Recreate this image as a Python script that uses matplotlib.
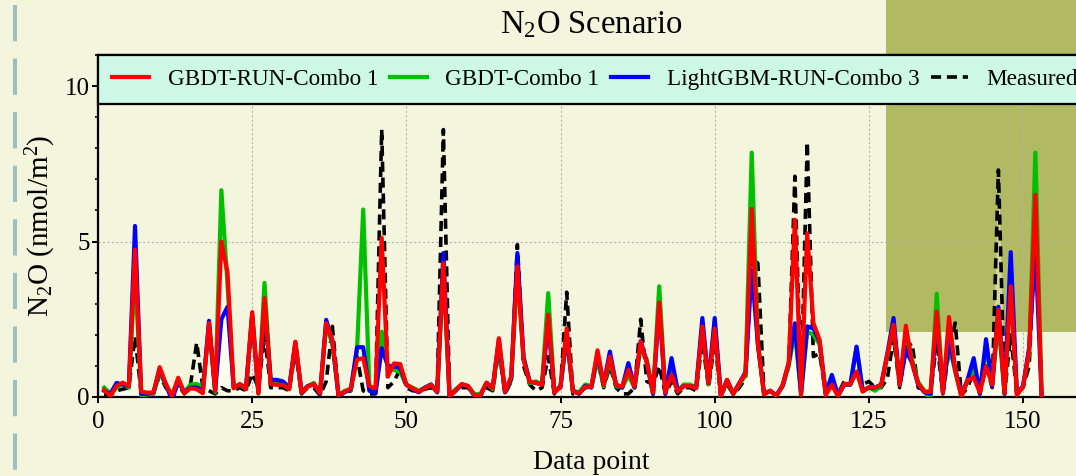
import numpy as np
import matplotlib
matplotlib.use("Agg")
import matplotlib.pyplot as plt
from matplotlib.patches import Rectangle
from matplotlib.lines import Line2D
from matplotlib.ticker import MultipleLocator

plt.rcParams["font.family"] = ["Liberation Serif", "DejaVu Serif"]
plt.rcParams["mathtext.fontset"] = "custom"
plt.rcParams["mathtext.rm"] = "Liberation Serif"
plt.rcParams["mathtext.it"] = "Liberation Serif:italic"

# ---- data -------------------------------------------------------------
data_point = np.arange(1, 154)

gbdt_run_combo1 = [
    0.22, 0.03, 0.35, 0.46, 0.35, 4.74, 0.17, 0.14, 0.14, 0.96,
    0.42, 0.03, 0.62, 0.12, 0.28, 0.25, 0.12, 2.38, 0.19, 5.00,
    4.00, 0.28, 0.42, 0.25, 2.73, 0.12, 3.18, 0.42, 0.39, 0.39,
    0.25, 1.78, 0.14, 0.33, 0.42, 0.12, 2.38, 1.84, 0.06, 0.17,
    0.28, 1.20, 1.25, 0.35, 0.28, 5.12, 0.66, 1.08, 1.06, 0.39,
    0.28, 0.17, 0.28, 0.39, 0.17, 4.31, 0.01, 0.22, 0.42, 0.35,
    0.06, 0.06, 0.46, 0.28, 1.89, 0.17, 0.66, 4.20, 1.19, 0.49,
    0.46, 0.39, 2.65, 0.14, 0.33, 2.20, 0.17, 0.12, 0.33, 0.33,
    1.50, 0.39, 1.30, 0.39, 0.33, 0.87, 0.33, 1.78, 1.09, 0.14,
    3.04, 0.14, 0.71, 0.17, 0.35, 0.35, 0.28, 2.27, 0.44, 2.20,
    0.03, 0.55, 0.10, 0.44, 0.76, 6.05, 1.73, 0.08, 0.20, 0.03,
    0.38, 1.09, 5.70, 0.06, 5.26, 2.38, 1.84, 0.06, 0.39, 0.02,
    0.42, 0.42, 0.82, 0.17, 0.32, 0.31, 0.39, 1.35, 2.32, 0.39,
    2.29, 1.09, 0.42, 0.17, 0.17, 2.75, 0.14, 2.57, 0.87, 0.00,
    0.55, 0.62, 0.14, 0.98, 0.40, 2.80, 0.12, 3.56, 0.06, 0.33,
    1.50, 6.50, 0.06,
]

gbdt_combo1 = [
    0.30, 0.10, 0.30, 0.42, 0.30, 4.00, 0.05, 0.08, 0.10, 0.80,
    0.38, 0.05, 0.55, 0.15, 0.40, 0.42, 0.30, 2.30, 0.15, 6.65,
    3.60, 0.30, 0.40, 0.25, 2.60, 0.10, 3.67, 0.45, 0.45, 0.42,
    0.25, 1.70, 0.15, 0.35, 0.45, 0.10, 2.30, 1.70, 0.05, 0.20,
    0.22, 1.50, 6.03, 0.30, 0.20, 2.10, 0.95, 0.87, 0.80, 0.40,
    0.30, 0.20, 0.30, 0.40, 0.15, 4.00, 0.05, 0.25, 0.40, 0.35,
    0.10, 0.08, 0.45, 0.25, 1.70, 0.15, 0.55, 4.00, 1.30, 0.45,
    0.50, 0.40, 3.34, 0.15, 0.35, 1.90, 0.20, 0.15, 0.40, 0.35,
    1.20, 0.35, 1.20, 0.35, 0.30, 0.70, 0.30, 1.60, 1.20, 0.10,
    3.56, 0.15, 0.95, 0.20, 0.40, 0.40, 0.30, 2.30, 0.40, 2.40,
    0.05, 0.50, 0.10, 0.40, 0.70, 7.86, 1.70, 0.10, 0.20, 0.05,
    0.35, 1.00, 2.10, 0.10, 2.10, 2.00, 1.70, 0.10, 0.55, 0.05,
    0.40, 0.40, 1.60, 0.20, 0.30, 0.20, 0.35, 1.30, 2.30, 0.40,
    2.10, 1.20, 0.48, 0.20, -0.10, 3.32, 0.15, 1.70, 0.80, 0.05,
    0.50, 0.90, 0.15, 1.60, 0.40, 2.40, 0.10, 3.60, 0.10, 0.35,
    1.40, 7.86, 0.10,
]

lightgbm_run_combo3 = [
    0.20, 0.10, 0.45, 0.40, 0.35, 5.50, 0.10, 0.10, 0.15, 0.90,
    0.40, -0.10, 0.50, 0.15, 0.30, 0.30, 0.20, 2.45, 0.20, 2.50,
    2.90, 0.30, 0.40, 0.30, 2.65, 0.15, 3.00, 0.55, 0.55, 0.50,
    0.30, 1.75, 0.15, 0.35, 0.40, 0.10, 2.48, 1.80, 0.05, 0.15,
    0.25, 1.60, 1.60, 0.20, 0.12, 1.57, 1.00, 0.98, 0.95, 0.40,
    0.25, 0.15, 0.30, 0.40, 0.15, 4.63, 0.05, 0.20, 0.40, 0.35,
    0.05, 0.05, 0.45, 0.30, 1.85, 0.15, 0.60, 4.63, 1.25, 0.50,
    0.45, 0.40, 2.40, 0.15, 0.35, 2.00, 0.20, 0.10, 0.35, 0.30,
    1.40, 0.40, 1.46, 0.40, 0.30, 1.09, 0.30, 1.80, 1.10, 0.10,
    2.90, 0.10, 1.25, 0.20, 0.35, 0.35, 0.30, 2.54, 0.45, 2.54,
    0.05, 0.55, 0.10, 0.45, 0.80, 4.10, 1.70, 0.10, 0.20, 0.05,
    0.35, 1.10, 2.37, 0.10, 2.27, 2.20, 1.80, 0.10, 0.71, 0.05,
    0.40, 0.40, 1.62, 0.20, 0.30, 0.30, 0.40, 1.40, 2.54, 0.40,
    1.50, 1.10, 0.40, 0.15, 0.10, 2.50, 0.15, 1.80, 0.90, 0.05,
    0.55, 1.25, 0.10, 1.86, 0.35, 2.90, 0.10, 4.66, 0.10, 0.35,
    1.60, 4.84, 0.10,
]

measured = [
    0.10, 0.05, 0.20, 0.25, 0.30, 1.95, 0.10, 0.10, 0.15, 0.70,
    0.30, 0.10, 0.40, 0.10, 0.40, 1.75, 0.30, 0.20, 0.10, 0.30,
    0.20, 0.20, 0.30, 0.20, 0.75, 0.30, 2.00, 0.30, 0.30, 0.30,
    0.20, 1.50, 0.10, 0.30, 0.30, 0.05, 0.50, 2.27, 0.10, 0.10,
    0.20, 1.30, 0.20, 0.10, 0.10, 8.60, 0.30, 0.50, 0.90, 0.30,
    0.20, 0.20, 0.25, 0.30, 0.20, 8.60, 0.05, 0.20, 0.30, 0.30,
    0.05, 0.05, 0.30, 0.20, 1.50, 0.10, 0.50, 4.90, 1.00, 0.40,
    0.20, 0.30, 1.30, 0.10, 0.30, 3.37, 0.10, 0.10, 0.30, 0.30,
    1.20, 0.30, 1.00, 0.30, 0.10, 0.10, 0.30, 2.50, 0.50, 0.40,
    1.00, 0.10, 0.50, 0.10, 0.30, 0.30, 0.20, 1.80, 0.30, 1.80,
    0.05, 0.40, 0.10, 0.30, 0.60, 4.50, 4.30, 0.10, 0.20, 0.05,
    0.30, 1.00, 7.10, 0.10, 8.20, 1.30, 1.40, 0.10, 0.40, 0.10,
    0.50, 0.40, 0.80, 0.40, 0.50, 0.30, 0.30, 0.60, 1.90, 0.30,
    1.60, 1.73, 0.30, 0.20, 0.10, 1.80, 0.10, 1.50, 2.38, 0.05,
    0.30, 0.80, 0.10, 1.00, 0.30, 7.30, 0.10, 2.00, 0.10, 0.30,
    1.00, 5.50, 0.10,
]

series = [
    ("GBDT-RUN-Combo 1", gbdt_run_combo1, "#ff0000", "-", 5),
    ("GBDT-Combo 1", gbdt_combo1, "#00c000", "-", 3),
    ("LightGBM-RUN-Combo 3", lightgbm_run_combo3, "#0000ff", "-", 4),
    ("Measured", measured, "black", (0, (2.8, 1.6)), 2),
]

# ---- figure -----------------------------------------------------------
bg = "#f3f6dc"
fig = plt.figure(figsize=(10.76, 4.76), dpi=100, facecolor=bg)

# shaded block behind the upper-right part of the plot
fig.add_artist(Rectangle((0.8234, 0.3025), 0.1766, 0.6975,
                         transform=fig.transFigure, facecolor="#b1b962",
                         edgecolor="none", zorder=-5))
# decorative dashed rule along the left margin
fig.add_artist(Line2D([0.0139, 0.0139], [0.99, 0.0], transform=fig.transFigure,
                      color="#9dbfc2", lw=2.9, dashes=(9, 4.3),
                      solid_capstyle="butt", zorder=-4))

ax = fig.add_axes([0.0911, 0.166, 0.917, 0.7185])
ax.set_facecolor("none")

handles = []
for label, vals, color, ls, z in series:
    vals = np.asarray(vals)
    ax.fill_between(data_point, 0, vals, color="#fffff0", alpha=0.45,
                    lw=0, zorder=1)
    lw = 2.6 if label == "Measured" else 3.0
    (h,) = ax.plot(data_point, vals, color=color, ls=ls, lw=lw, zorder=z,
                   label=label)
    handles.append(h)

ax.set_xlim(0, 160)
ax.set_ylim(0, 11)
ax.xaxis.set_major_locator(MultipleLocator(25))
ax.yaxis.set_major_locator(MultipleLocator(5))
ax.yaxis.set_minor_locator(MultipleLocator(1))
ax.grid(True, which="major", color="#b4b4b4", ls=(0, (2, 2)), lw=0.8, zorder=0)
ax.tick_params(axis="both", which="major", labelsize=18, length=4, width=1.4,
               color="black")
ax.tick_params(axis="x", which="major", pad=6)
ax.tick_params(axis="y", which="major", pad=2)
ax.tick_params(axis="y", which="minor", length=2.5, width=1.2)
for side in ("left", "bottom", "top", "right"):
    ax.spines[side].set_linewidth(1.6)
    ax.spines[side].set_color("black")

ax.set_xlabel("Data point", fontsize=20, labelpad=12)
ax.set_ylabel(r"N$_2$O (nmol/m$^2$)", fontsize=21, labelpad=5)
ax.set_title(r"N$_2$O Scenario", fontsize=23.5, pad=16)

leg = ax.legend(handles=handles, loc="upper left", bbox_to_anchor=(0, 1),
                borderaxespad=0, ncol=4, fontsize=16.7, frameon=True,
                fancybox=False, facecolor="#cdf7e7", edgecolor="black",
                framealpha=1, handlelength=1.6, handletextpad=0.8,
                columnspacing=0.5, borderpad=0.6)
leg.get_frame().set_linewidth(1.6)
leg.set_zorder(10)

fig.savefig("out.png", dpi=100, facecolor=bg)
